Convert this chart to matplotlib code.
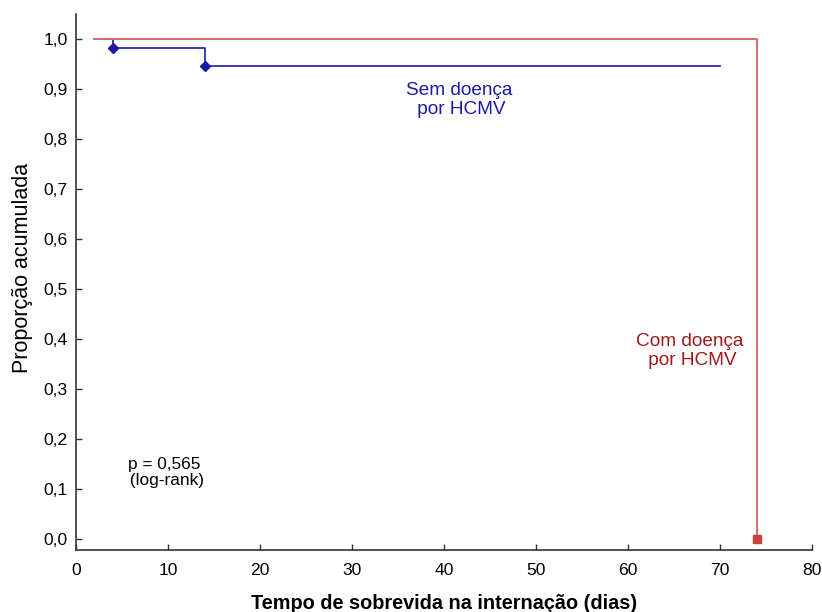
import matplotlib.pyplot as plt
import numpy as np

plt.rcParams['font.family'] = ['Liberation Sans', 'DejaVu Sans']

# Curvas de Kaplan-Meier (tempo em dias, proporção acumulada)
t_sem = [3, 4, 14, 70]
s_sem = [1.0, 0.982, 0.946, 0.946]
ev_sem_t = [4, 14]
ev_sem_s = [0.982, 0.946]

t_com = [2, 74, 74]
s_com = [1.0, 1.0, 0.0]
ev_com_t = [74]
ev_com_s = [0.0]

azul = '#1a1aa6'
vermelho = '#d46a6a'

fig = plt.figure(figsize=(8.22, 6.12), dpi=100)
ax = fig.add_axes([0.0925, 0.1013, 0.8955, 0.8757])

ax.step(t_sem, s_sem, where='post', color=azul, lw=1.2)
ax.plot(ev_sem_t, ev_sem_s, 'D', color=azul, ms=5)
ax.plot(t_com, s_com, color=vermelho, lw=1.4)
ax.plot(ev_com_t, ev_com_s, 's', color='#c84040', ms=6)

ax.text(41.6, 0.879, 'Sem doença\n por HCMV', color=azul, fontsize=13.7,
        ha='center', va='center', linespacing=1.15)
ax.text(66.7, 0.377, 'Com doença\n por HCMV', color='#a01818', fontsize=13.7,
        ha='center', va='center', linespacing=1.15)
ax.text(9.6, 0.133, 'p = 0,565\n (log-rank)', color='black', fontsize=12.4,
        ha='center', va='center', linespacing=1.1)

ax.set_xlim(0, 80)
ax.set_ylim(-0.022, 1.05)
ax.set_xticks(np.arange(0, 81, 10))
ax.set_yticks(np.arange(0, 1.01, 0.1))
ax.set_yticklabels([f'{v:.1f}'.replace('.', ',') for v in np.arange(0, 1.01, 0.1)])
ax.tick_params(direction='in', length=4, width=1, labelsize=12.6, colors='#333333',
               labelcolor='black')
ax.tick_params(axis='x', pad=9)
ax.tick_params(axis='y', pad=6)
for s in ['top', 'right']:
    ax.spines[s].set_visible(False)
for s in ['left', 'bottom']:
    ax.spines[s].set_color('#333333')
    ax.spines[s].set_linewidth(1.2)

ax.set_xlabel('Tempo de sobrevida na internação (dias)', fontsize=14.3,
              fontweight='bold')
ax.set_ylabel('Proporção acumulada', fontsize=15.5)
ax.xaxis.set_label_coords(0.5, -0.1, transform=ax.transAxes)
ax.xaxis.label.set_va('center')
ax.yaxis.set_label_coords(-0.0725, 0.526, transform=ax.transAxes)
ax.yaxis.label.set_va('center')

fig.savefig('out.png', dpi=100)
